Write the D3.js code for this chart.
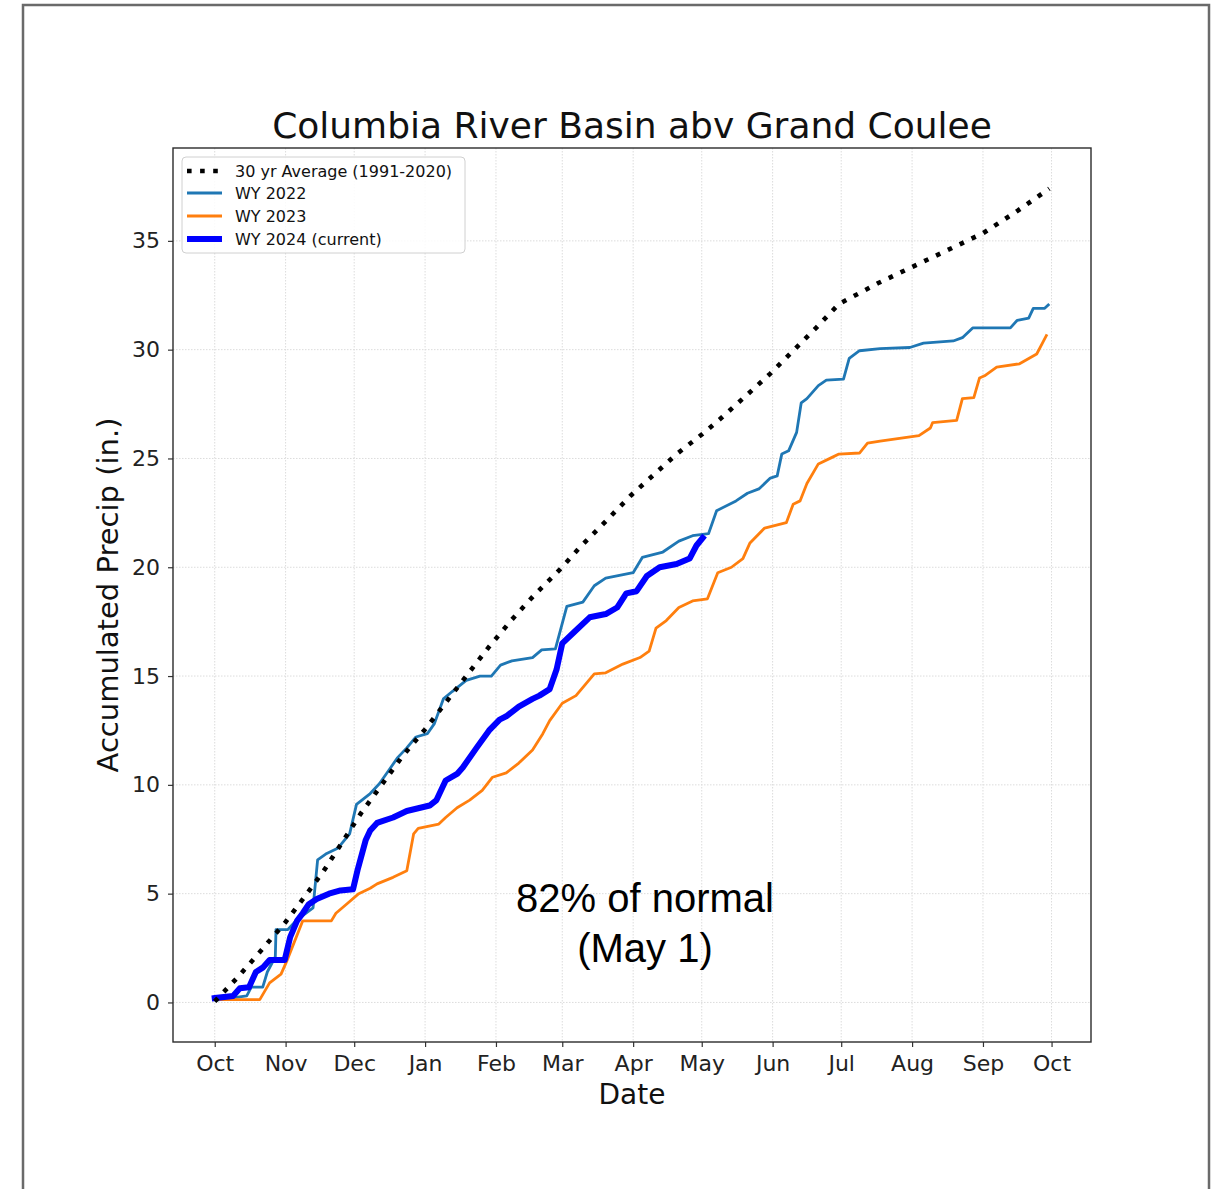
<!DOCTYPE html>
<html>
<head>
<meta charset="utf-8">
<script src="https://cdn.jsdelivr.net/npm/d3@7/dist/d3.min.js"></script>
<style>
  html, body { margin: 0; padding: 0; background: #fff; }
  svg { display: block; }
</style>
</head>
<body>
<svg id="chart" width="1215" height="1189"></svg>
<script>
// ---------------- DATA (day offset from 1 Oct 2023, accumulated inches) ----------------
const startDate = Date.UTC(2023, 9, 1);
const monthTickLabels = ["Oct","Nov","Dec","Jan","Feb","Mar","Apr","May","Jun","Jul","Aug","Sep","Oct"];
const yTickValues = [0, 5, 10, 15, 20, 25, 30, 35];
const seriesNames = ["30 yr Average (1991-2020)", "WY 2022", "WY 2023", "WY 2024 (current)"];

const avg30 = [[0,0.05],[10,1.15],[20,2.35],[31,3.7],[40,4.95],[48,6.1],[56,7.4],[64,8.7],[73,10.0],
  [82,11.3],[92,12.55],[99,13.5],[110,15.0],[120,16.35],[130,17.6],[140,18.75],[151,19.9],[160,20.95],
  [170,22.0],[182,23.3],[192,24.25],[202,25.2],[213,26.1],[222,26.9],[232,27.85],[243,28.9],[253,29.95],
  [263,31.0],[273,32.1],[282,32.6],[290,33.05],[305,33.8],[320,34.55],[336,35.35],[350,36.3],[365,37.4]];

const wy2022 = [[0,0.1],[14,0.3],[16,0.7],[21,0.7],[23,1.4],[26.5,2.1],[26.8,3.35],[32,3.35],[36,3.8],
  [43,4.35],[45,6.55],[49,6.85],[54,7.1],[59,7.75],[62,9.1],[68,9.6],[72,10.05],[76,10.65],[80,11.25],
  [84,11.7],[88,12.2],[93,12.35],[96,12.8],[100,13.95],[104,14.3],[110,14.8],[116,15.0],[121,15.0],
  [125,15.5],[130,15.7],[139,15.85],[143,16.2],[149,16.25],[154,18.2],[161,18.4],[166,19.15],[171,19.5],
  [183,19.75],[187,20.45],[196,20.7],[203,21.2],[209,21.45],[216,21.55],[219.5,22.6],[228,23.05],
  [233,23.4],[238,23.6],[243,24.1],[246,24.2],[248,25.2],[251,25.35],[254.5,26.2],[256.5,27.55],
  [259,27.75],[264,28.35],[267.5,28.6],[275,28.65],[277.5,29.6],[282,29.95],[291,30.05],[304,30.1],
  [310,30.3],[323,30.4],[327,30.55],[331.5,31.0],[348,31.0],[351,31.35],[356,31.45],[358,31.9],
  [363,31.9],[365,32.1]];

const wy2023 = [[0,0.13],[19.7,0.13],[24,0.9],[29,1.3],[31.5,1.9],[38.5,3.75],[51,3.75],[53,4.1],
  [58,4.55],[63,5.0],[68,5.25],[71,5.45],[78,5.75],[84,6.05],[87,7.75],[89,8.0],[98,8.2],[101,8.5],
  [106,8.95],[111.5,9.3],[117,9.75],[121.5,10.35],[127.5,10.55],[133,11.0],[139,11.6],[143.5,12.35],
  [146.5,12.95],[152,13.75],[158,14.1],[166,15.1],[171,15.15],[178.5,15.55],[186,15.85],[190,16.15],
  [193,17.2],[197.5,17.55],[203,18.15],[209,18.45],[215.5,18.55],[220,19.75],[226,20.0],[231,20.4],
  [234,21.1],[240.5,21.8],[250,22.05],[253,22.9],[256,23.05],[259,23.85],[264,24.75],[270,25.05],
  [273,25.2],[282,25.25],[285.5,25.7],[291,25.8],[308,26.05],[313,26.4],[314,26.65],[324.5,26.75],
  [327,27.75],[332,27.8],[334.5,28.7],[336.7,28.8],[342,29.2],[352,29.35],[359.5,29.8],[362,30.3],
  [364,30.7]];

const wy2024 = [[0,0.2],[8,0.3],[11,0.65],[15,0.7],[18,1.4],[21,1.6],[24,1.95],[30.6,1.95],[33,3.0],
  [36,3.75],[38.5,4.1],[41,4.5],[44.6,4.75],[50,5.0],[55,5.15],[60.5,5.2],[62.5,6.1],[66,7.45],
  [68,7.9],[71,8.25],[78,8.5],[84,8.8],[94,9.05],[97,9.3],[101,10.2],[106,10.5],[108.5,10.8],
  [114.5,11.7],[120,12.5],[124.6,13.0],[127.5,13.15],[133,13.6],[139,13.95],[142,14.1],[146.5,14.4],
  [149.5,15.3],[152,16.5],[157,17.0],[164,17.7],[171,17.85],[176,18.15],[180,18.8],[184.5,18.9],
  [189,19.6],[194.6,20.0],[202,20.15],[207.7,20.4],[210.7,21.0],[213.4,21.35]];

const annotationLines = ["82% of normal", "(May 1)"];
const titleText = "Columbia River Basin abv Grand Coulee";

// ---------------- LAYOUT ----------------
const svg = d3.select("#chart");
const plot = { left: 173, right: 1091, top: 148, bottom: 1042 };
const DAY = 86400000;
const toDate = d => new Date(startDate + d * DAY);

// matplotlib-like 5% margins
const xMin = 0, xMax = 365, xPad = (xMax - xMin) * 0.05;
const x = d3.scaleUtc()
  .domain([toDate(xMin - xPad), toDate(xMax + xPad)])
  .range([plot.left, plot.right]);
const yMin = 0.05, yMax = 37.4, yPad = (yMax - yMin) * 0.05;
const y = d3.scaleLinear()
  .domain([yMin - yPad, yMax + yPad])
  .range([plot.bottom, plot.top]);

const monthTicks = d3.range(13).map(i => new Date(Date.UTC(2023, 9 + i, 1)));

// figure border
svg.append("rect").attr("x", 23).attr("y", 5).attr("width", 1186).attr("height", 1200)
  .attr("fill", "none").attr("stroke", "#6a6a6a").attr("stroke-width", 2.5);

// grid
const grid = svg.append("g");
grid.selectAll(".gx").data(monthTicks).join("line")
  .attr("x1", d => x(d)).attr("x2", d => x(d))
  .attr("y1", plot.top).attr("y2", plot.bottom)
  .attr("stroke", "#dcdcdc").attr("stroke-width", 1).attr("stroke-dasharray", "1.5,1.5");
grid.selectAll(".gy").data(yTickValues).join("line")
  .attr("x1", plot.left).attr("x2", plot.right)
  .attr("y1", d => y(d)).attr("y2", d => y(d))
  .attr("stroke", "#dcdcdc").attr("stroke-width", 1).attr("stroke-dasharray", "1.5,1.5");

// axes
const xAxis = d3.axisBottom(x).tickValues(monthTicks)
  .tickFormat((d, i) => monthTickLabels[i]).tickSize(5).tickPadding(8);
const gx = svg.append("g").attr("transform", `translate(0,${plot.bottom})`).call(xAxis);
gx.select(".domain").remove();
gx.selectAll("line").attr("stroke", "#333").attr("stroke-width", 1.2);
gx.selectAll("text").attr("font-family", "DejaVu Sans").attr("font-size", 22).attr("fill", "#222");

const yAxis = d3.axisLeft(y).tickValues(yTickValues).tickSize(5).tickPadding(8);
const gy = svg.append("g").attr("transform", `translate(${plot.left},0)`).call(yAxis);
gy.select(".domain").remove();
gy.selectAll("line").attr("stroke", "#333").attr("stroke-width", 1.2);
gy.selectAll("text").attr("font-family", "DejaVu Sans").attr("font-size", 22).attr("fill", "#222");

// lines
const line = d3.line().x(d => x(toDate(d[0]))).y(d => y(d[1]));
svg.append("clipPath").attr("id", "clip").append("rect")
  .attr("x", plot.left).attr("y", plot.top)
  .attr("width", plot.right - plot.left).attr("height", plot.bottom - plot.top);
const lines = svg.append("g").attr("clip-path", "url(#clip)");

lines.append("path").datum(wy2022).attr("d", line)
  .attr("fill", "none").attr("stroke", "#1f77b4").attr("stroke-width", 2.8)
  .attr("stroke-linejoin", "round");
lines.append("path").datum(wy2023).attr("d", line)
  .attr("fill", "none").attr("stroke", "#ff7f0e").attr("stroke-width", 2.8)
  .attr("stroke-linejoin", "round");
lines.append("path").datum(wy2024).attr("d", line)
  .attr("fill", "none").attr("stroke", "#0000ff").attr("stroke-width", 6)
  .attr("stroke-linejoin", "round").attr("stroke-linecap", "square");
lines.append("path").datum(avg30).attr("d", line)
  .attr("fill", "none").attr("stroke", "#000").attr("stroke-width", 4.6)
  .attr("stroke-dasharray", "4.6,8.5");

// spines
svg.append("rect").attr("x", plot.left).attr("y", plot.top)
  .attr("width", plot.right - plot.left).attr("height", plot.bottom - plot.top)
  .attr("fill", "none").attr("stroke", "#2b2b2b").attr("stroke-width", 1.4);

// title and labels
svg.append("text").attr("x", (plot.left + plot.right) / 2).attr("y", 138)
  .attr("text-anchor", "middle").attr("font-family", "DejaVu Sans").attr("font-size", 36)
  .attr("fill", "#111").text(titleText);
svg.append("text").attr("x", (plot.left + plot.right) / 2).attr("y", 1104)
  .attr("text-anchor", "middle").attr("font-family", "DejaVu Sans").attr("font-size", 28)
  .attr("fill", "#111").text("Date");
svg.append("text")
  .attr("transform", `translate(118,${(plot.top + plot.bottom) / 2}) rotate(-90)`)
  .attr("text-anchor", "middle").attr("font-family", "DejaVu Sans").attr("font-size", 29)
  .attr("fill", "#111").text("Accumulated Precip (in.)");

// annotation
svg.append("g").selectAll("text").data(annotationLines).join("text")
  .attr("x", 645).attr("y", (d, i) => 912 + i * 50)
  .attr("text-anchor", "middle").attr("font-family", "Liberation Sans, Arial, sans-serif")
  .attr("font-size", 40).attr("fill", "#000").text(d => d);

// legend
const legend = svg.append("g");
legend.append("rect").attr("x", 182).attr("y", 157).attr("width", 283).attr("height", 96)
  .attr("rx", 4).attr("fill", "#fff").attr("fill-opacity", 0.85)
  .attr("stroke", "#d0d0d0").attr("stroke-width", 1);
const legendStyles = [
  { color: "#000", width: 4.6, dash: "4.6,8.5" },
  { color: "#1f77b4", width: 2.8, dash: null },
  { color: "#ff7f0e", width: 2.8, dash: null },
  { color: "#0000ff", width: 6, dash: null }
];
const rowY = [171, 193, 216, 239];
seriesNames.forEach((name, i) => {
  const s = legendStyles[i];
  const ln = legend.append("line").attr("x1", 187).attr("x2", 222)
    .attr("y1", rowY[i]).attr("y2", rowY[i])
    .attr("stroke", s.color).attr("stroke-width", s.width);
  if (s.dash) ln.attr("stroke-dasharray", s.dash);
  legend.append("text").attr("x", 235).attr("y", rowY[i]).attr("dy", "0.35em")
    .attr("font-family", "DejaVu Sans").attr("font-size", 16).attr("fill", "#111").text(name);
});
</script>
</body>
</html>
